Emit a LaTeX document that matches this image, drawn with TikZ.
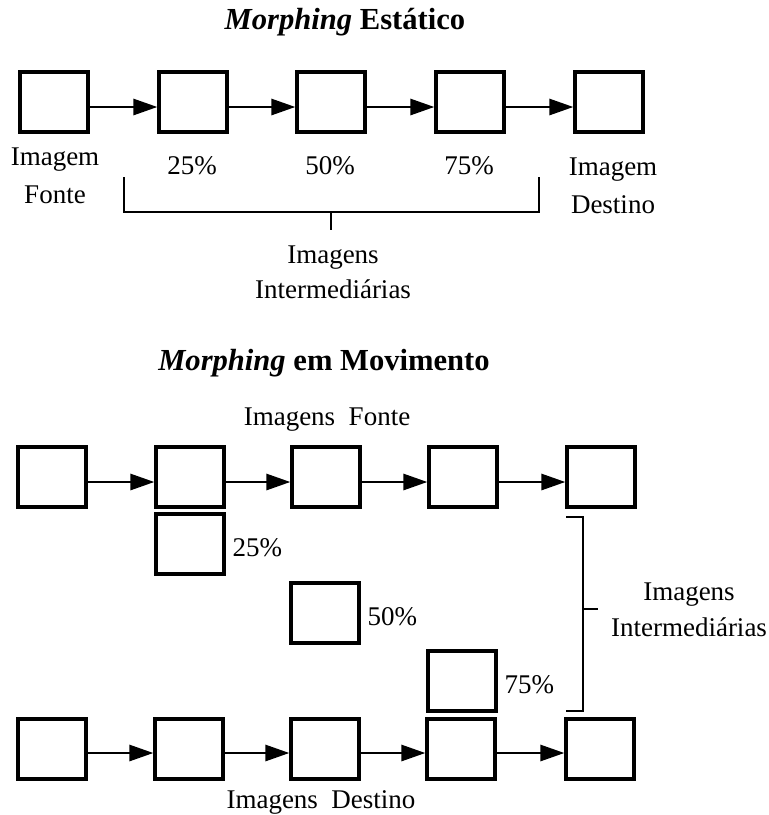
\documentclass[tikz,border=0pt]{standalone}
\usepackage{fontspec}
\setmainfont{Liberation Serif}
\usetikzlibrary{arrows.meta,positioning}

\tikzset{
  quadro/.style={draw, line width=1.6pt, minimum width=34pt, minimum height=30pt, inner sep=0pt},
  seta/.style={-{Triangle[length=12pt,width=8pt]}, line width=1.4pt},
  rotulo/.style={font=\fontsize{13.5}{19}\selectfont, align=center},
  titulo/.style={font=\fontsize{15.3}{18}\selectfont\bfseries},
  chave/.style={line width=1.3pt},
}

\begin{document}
\begin{tikzpicture}[x=0.5pt, y=-0.5pt]
    \useasboundingbox (0,0) rectangle (769,815);

    % morphing estatico
    \node[titulo] (tit1) at (345,22) {\textit{Morphing} Estático};
    \foreach \i/\x in {0/54,1/193,2/331,3/470,4/609}
        \node[quadro] (e\i) at (\x,102) {};
    \foreach \a/\b in {0/1,1/2,2/3,3/4}
        \draw[seta] ([yshift=-2.5pt]e\a.east) -- ([yshift=-2.5pt]e\b.west);

    \node[rotulo] (fonte) at (55,176) {Imagem\\Fonte};
    \node[rotulo] (destino) at (613,186) {Imagem\\Destino};
    \node[rotulo] (e25) at (192,166) {25\%};
    \node[rotulo] (e50) at (330,166) {50\%};
    \node[rotulo] (e75) at (469,166) {75\%};

    \draw[chave] (124,177) |- (539,212) -- (539,177);
    \draw[chave] (331,212) -- (331,230);
    \node[rotulo, font=\fontsize{13.5}{17.5}\selectfont] (inter1) at (333,272) {Imagens\\Intermediárias};

    % morphing em movimento
    \node[titulo] (tit2) at (324,363) {\textit{Morphing} em Movimento};
    \node[rotulo] (fontes) at (327,420) {Imagens~~Fonte};
    \foreach \i/\x in {0/52,1/190,2/326,3/463,4/601}
        \node[quadro] (f\i) at (\x,477) {};
    \foreach \i/\x in {0/52,1/189,2/325,3/461,4/600}
        \node[quadro] (d\i) at (\x,749) {};
    \foreach \a/\b in {0/1,1/2,2/3,3/4} {
        \draw[seta] ([yshift=-2.5pt]f\a.east) -- ([yshift=-2.5pt]f\b.west);
        \draw[seta] ([yshift=-2pt]d\a.east) -- ([yshift=-2pt]d\b.west);
    }
    \node[rotulo] (destinos) at (321,802) {Imagens~~Destino};

    \node[quadro] (m25) at (190,544) {};
    \node[quadro] (m50) at (325,613) {};
    \node[quadro] (m75) at (462,681) {};
    \node[rotulo, right=0pt of m25, yshift=-2pt] (t25) {25\%};
    \node[rotulo, right=0pt of m50, yshift=-2pt] (t50) {50\%};
    \node[rotulo, right=0pt of m75, yshift=-2pt] (t75) {75\%};

    \draw[chave] (566,517) -- (583,517) -- (583,711) -- (566,711);
    \draw[chave] (583,609) -- (598,609);
    \node[rotulo, font=\fontsize{13.5}{18}\selectfont] (inter2) at (689,610) {Imagens\\Intermediárias};
\end{tikzpicture}
\end{document}
